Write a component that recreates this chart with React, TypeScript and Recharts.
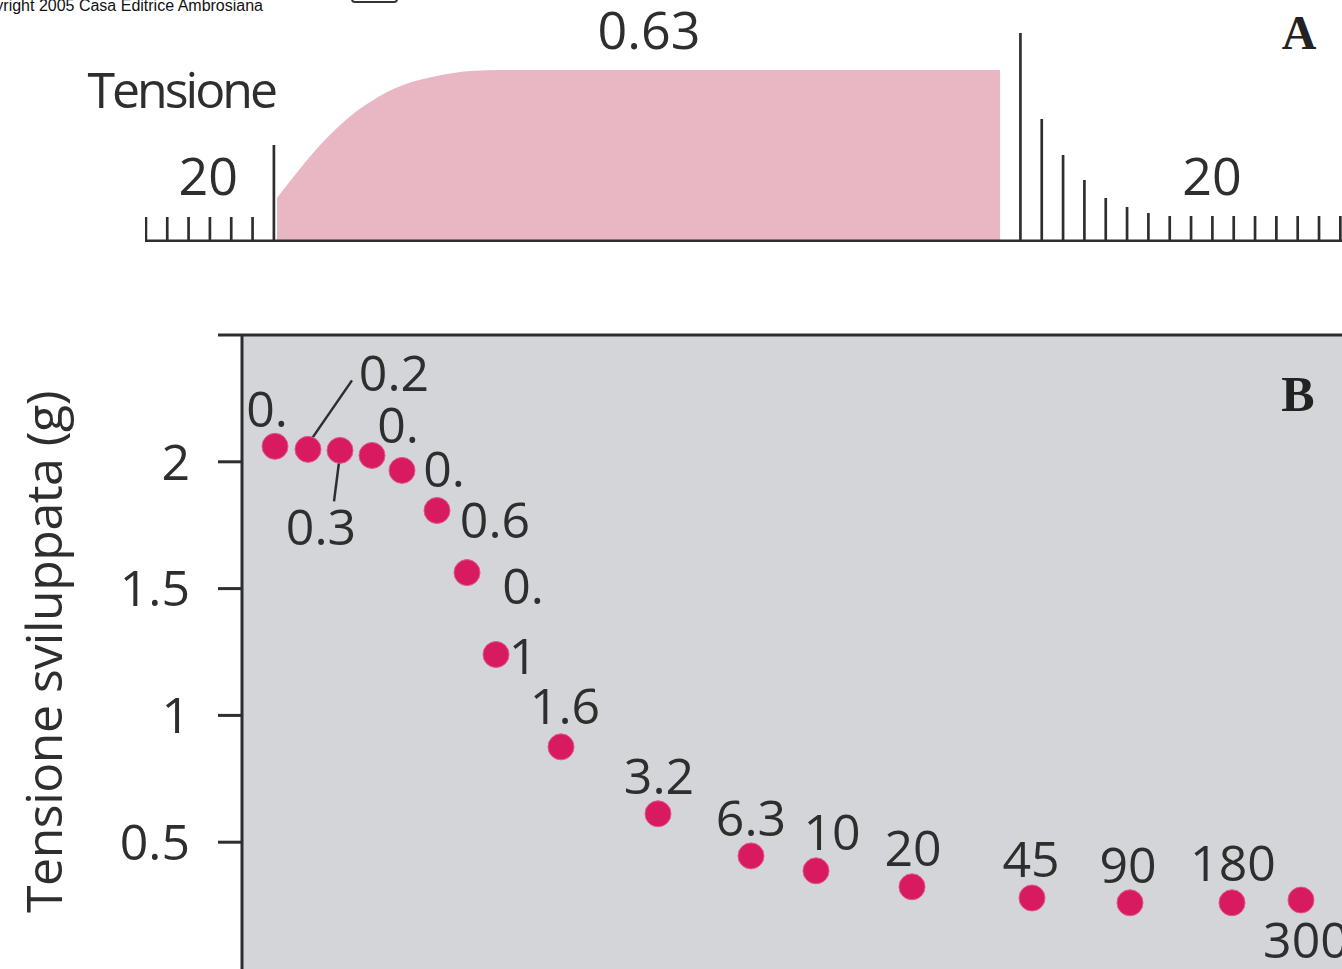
import React from 'react';
import {
    ComposedChart,
    Area,
    Bar,
    XAxis,
    YAxis,
    ScatterChart,
    Scatter,
    CartesianGrid,
    ReferenceLine,
} from 'recharts';

// Palette / type
const FONT = '"Open Sans", "DejaVu Sans", sans-serif';
const INK = '#2e2e2e';
const PINK_FILL = '#e9b7c4';
const DOT = '#d81b60';
const PANEL_GRAY = '#d3d5d8';

// Panel A: stimulus ticks (time in stimulus periods) and twitch/tetanus trace
const stimTicks = [-6, -5, -4, -3, -2, -1, 0, 35, 36, 37, 38, 39, 40, 41, 42, 43, 44, 45, 46, 47, 48, 49, 50];
const stimTickHeights = [24, 24, 24, 24, 24, 24, 96, 208, 122, 86, 61, 43, 34, 28, 25, 25, 25, 25, 25, 25, 25, 25, 25];
const tensionTime = [0.14, 1.36, 2.16, 2.95, 3.7, 4.5, 5.3, 6.05, 7.64, 9.19, 10.74, 12.5, 34.04];
const tensionLevel = [43, 76, 96, 113, 127, 139, 149, 156, 165, 170, 171, 171, 171];

// Panel B: developed tension vs stimulus interval (labels in seconds)
const intervalLabels = ['0.', '0.2', '0.3', '0.', '0.', '0.6', '0.', '1', '1.6', '3.2', '6.3', '10', '20', '45', '90', '180', '300'];
const dotPosition = [3.3, 6.6, 9.8, 13.0, 16.0, 19.5, 22.5, 25.4, 31.9, 41.6, 50.9, 57.4, 67.0, 79.0, 88.8, 99.0, 105.9];
const developedTension = [2.061, 2.049, 2.045, 2.025, 1.966, 1.808, 1.563, 1.24, 0.876, 0.612, 0.446, 0.387, 0.324, 0.28, 0.261, 0.261, 0.272];
const yTicks = [0.5, 1, 1.5, 2, 2.5];

// label placement around each dot (dx, dy to the text centre)
const labelOffsets = [
    [-8, -37], [86, -76], [-19, 77], [26, -30], [42, -1], [58, 10], [56, 13], [27, 1], [4, -41],
    [1, -38], [0, -38], [16, -39], [1, -39], [-1, -39], [-2, -38], [1, -40], [5, 40],
];
// leader lines (relative to dot centre)
const leaderLines: Record<number, number[]> = {
    1: [4, -11, 44, -69],
    2: [-1, 12, -6, 51],
};

const LABEL_SIZE = 50;

const stimRows = [
    ...stimTicks.map((t, i) => ({ t, h: stimTickHeights[i] })),
    ...tensionTime.map((t, i) => ({ t, v: tensionLevel[i] })),
].sort((a, b) => a.t - b.t);

const pointRows = dotPosition.map((x, i) => ({
    x,
    y: developedTension[i],
    label: intervalLabels[i],
    i,
}));

const DotWithLabel = (props: any) => {
    const { cx, cy, payload } = props;
    if (cx == null || cy == null) return null;
    const idx = payload.i;
    const [dx, dy] = labelOffsets[idx];
    const leader = leaderLines[idx];
    return (
        <g>
            {leader && (
                <line
                    x1={cx + leader[0]}
                    y1={cy + leader[1]}
                    x2={cx + leader[2]}
                    y2={cy + leader[3]}
                    stroke={INK}
                    strokeWidth={2.5}
                />
            )}
            <circle cx={cx} cy={cy} r={13} fill={DOT} stroke="#e0578c" strokeWidth={1} />
            <text
                x={cx + dx}
                y={cy + dy + LABEL_SIZE * 0.36}
                textAnchor="middle"
                fontFamily={FONT}
                fontSize={LABEL_SIZE}
                fill={INK}
            >
                {payload.label}
            </text>
        </g>
    );
};

export default function App() {
    return (
        <div style={{ position: 'relative', width: 1342, height: 969, overflow: 'hidden', background: '#fff' }}>
            <style>{'body{margin:0;}'}</style>

            {/* A */}
            <div style={{ position: 'absolute', left: 0, top: 0 }}>
                <ComposedChart
                    width={1342}
                    height={242}
                    data={stimRows}
                    margin={{ top: 31, right: 0, bottom: 0, left: 145 }}
                >
                    <XAxis
                        type="number"
                        dataKey="t"
                        domain={[-6.05, 50.07]}
                        allowDataOverflow
                        tick={false}
                        tickLine={false}
                        axisLine={{ stroke: INK, strokeWidth: 3 }}
                        height={1}
                    />
                    <YAxis hide domain={[0, 210]} allowDataOverflow />
                    <Area
                        type="monotone"
                        dataKey="v"
                        fill={PINK_FILL}
                        fillOpacity={1}
                        stroke="none"
                        connectNulls
                        isAnimationActive={false}
                    />
                    <Bar dataKey="h" fill={INK} barSize={3} isAnimationActive={false} />
                </ComposedChart>
            </div>

            {/* B */}
            <div style={{ position: 'absolute', left: 0, top: 300 }}>
                <ScatterChart
                    width={1342}
                    height={669}
                    margin={{ top: 35, right: 0, bottom: 0, left: 0 }}
                >
                    <CartesianGrid fill={PANEL_GRAY} fillOpacity={1} horizontal={false} vertical={false} />
                    <XAxis type="number" dataKey="x" domain={[0, 110]} hide />
                    <YAxis
                        type="number"
                        dataKey="y"
                        domain={[0, 2.5]}
                        ticks={yTicks}
                        width={242}
                        tickSize={24}
                        tickMargin={28}
                        tickFormatter={(v: number) => (v === 2.5 ? '' : String(v))}
                        tick={{ fill: INK, fontSize: 50, fontFamily: FONT }}
                        tickLine={{ stroke: INK, strokeWidth: 3 }}
                        axisLine={{ stroke: INK, strokeWidth: 3 }}
                        label={{
                            value: 'Tensione sviluppata (g)',
                            angle: -90,
                            position: 'insideLeft',
                            offset: 44,
                            style: { textAnchor: 'middle', fill: INK, fontSize: 50, fontFamily: FONT, letterSpacing: -0.5 },
                        }}
                    />
                    <ReferenceLine y={2.5} stroke={INK} strokeWidth={3} />
                    <Scatter
                        data={pointRows}
                        shape={DotWithLabel}
                        isAnimationActive={false}
                    />
                </ScatterChart>
            </div>

            {/* free annotations */}
            <svg
                width={1342}
                height={969}
                style={{ position: 'absolute', left: 0, top: 0, pointerEvents: 'none' }}
            >
                <text x={263} y={11} textAnchor="end" fontFamily='"Liberation Sans", Arial, sans-serif' fontSize={16} fill="#111">
                    Copyright 2005 Casa Editrice Ambrosiana
                </text>
                <rect x={352} y={-12} width={45} height={14} rx={3} fill="none" stroke="#333" strokeWidth={2} />
                <text x={275} y={108} textAnchor="end" fontFamily={FONT} fontSize={50} letterSpacing={-3} fill={INK}>
                    Tensione
                </text>
                <text x={238} y={195} textAnchor="end" fontFamily={FONT} fontSize={52} fill={INK}>
                    20
                </text>
                <text x={649} y={49} textAnchor="middle" fontFamily={FONT} fontSize={52} fill={INK}>
                    0.63
                </text>
                <text x={1212} y={195} textAnchor="middle" fontFamily={FONT} fontSize={52} fill={INK}>
                    20
                </text>
                <text x={1299} y={49} textAnchor="middle" fontFamily='"Liberation Serif", serif' fontWeight="bold" fontSize={48} fill="#222">
                    A
                </text>
                <text x={1298} y={411} textAnchor="middle" fontFamily='"Liberation Serif", serif' fontWeight="bold" fontSize={50} fill="#222">
                    B
                </text>
            </svg>
        </div>
    );
}
